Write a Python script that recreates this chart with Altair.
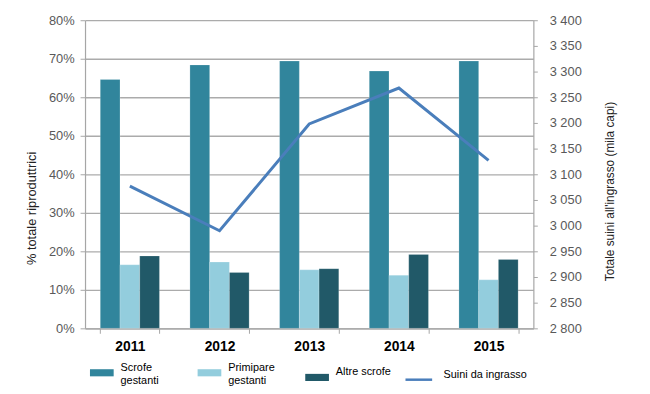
import altair as alt
import pandas as pd

anni = ["2011", "2012", "2013", "2014", "2015"]
serie_barre = ["Scrofe|gestanti", "Primipare|gestanti", "Altre scrofe"]
scrofe_gestanti = [64.6, 68.4, 69.4, 66.8, 69.4]
primipare_gestanti = [16.5, 17.2, 15.2, 13.8, 12.6]
altre_scrofe = [18.8, 14.5, 15.5, 19.2, 17.9]
serie_linea = "Suini da ingrasso"
suini_ingrasso = [3077, 2990, 3198, 3268, 3127]

colori_barre = ["#31859C", "#93CDDD", "#215968"]
colore_linea = "#4A7EBB"

rows = []
for i, a in enumerate(anni):
    for s, vals in zip(serie_barre, [scrofe_gestanti, primipare_gestanti, altre_scrofe]):
        rows.append({"Anno": a, "Serie": s, "Valore": vals[i]})
df_bar = pd.DataFrame(rows)
df_line = pd.DataFrame({"Anno": anni, "Suini": suini_ingrasso, "Serie": [serie_linea] * len(anni)})

FONT = "Liberation Sans"

x_enc = alt.X(
    "Anno:N",
    sort=anni,
    scale=alt.Scale(paddingInner=0.34, paddingOuter=0.17),
    axis=alt.Axis(
        title=None, labelAngle=0, labelFont=FONT, labelFontSize=14, labelFontWeight="bold",
        labelColor="#000000", labelPadding=6, tickBand="extent", tickSize=5,
        tickColor="#A6A6A6", domainColor="#A6A6A6", domainWidth=1.2, grid=False,
    ),
)

bars = alt.Chart(df_bar).mark_bar(stroke="#ffffff", strokeWidth=0.4, strokeOpacity=0.5).encode(
    x=x_enc,
    xOffset=alt.XOffset("Serie:N", sort=serie_barre, scale=alt.Scale(paddingInner=0, paddingOuter=0)),
    y=alt.Y(
        "Valore:Q",
        scale=alt.Scale(domain=[0, 80], nice=False),
        axis=alt.Axis(
            title="% totale riproduttrici", values=list(range(0, 90, 10)),
            labelExpr="datum.value + '%'", labelFont=FONT, labelFontSize=13, labelColor="#595959",
            labelPadding=6, tickSize=5, tickColor="#A6A6A6", domainColor="#A6A6A6", domainWidth=1.2,
            gridColor="#ABABAB", gridWidth=1.3, titleFont=FONT, titleFontSize=13,
            titleFontWeight="normal", titleColor="#222222", titlePadding=10, titleY=190,
        ),
    ),
    color=alt.Color(
        "Serie:N",
        sort=serie_barre,
        scale=alt.Scale(domain=serie_barre, range=colori_barre),
        legend=alt.Legend(
            title=None, orient="none", legendX=5, legendY=345, direction="horizontal",
            symbolType="M-1,-0.3H1V0.3H-1Z", symbolSize=576, symbolStrokeWidth=0,
            labelExpr="split(datum.label, '|')", labelFont=FONT, labelFontSize=11,
            labelColor="#000000", labelOffset=7, labelBaseline="bottom",
            columnPadding=22, gridAlign="all", padding=0,
        ),
    ),
)

line = alt.Chart(df_line).mark_line(strokeWidth=3).encode(
    x=alt.X("Anno:N", sort=anni),
    y=alt.Y(
        "Suini:Q",
        scale=alt.Scale(domain=[2800, 3400], nice=False, zero=False),
        axis=alt.Axis(
            orient="right", title="Totale suini all'ingrasso (mila capi)",
            values=list(range(2800, 3450, 50)),
            labelExpr="replace(format(datum.value, ','), ',', ' ')",
            labelFont=FONT, labelFontSize=13, labelColor="#595959", labelPadding=12,
            tickSize=4, tickColor="#A6A6A6", domainColor="#A6A6A6", domainWidth=1.2, grid=False,
            titleFont=FONT, titleFontSize=12, titleFontWeight="normal", titleColor="#222222",
            titleAngle=270, titlePadding=36, titleY=173,
        ),
    ),
    stroke=alt.Stroke(
        "Serie:N",
        scale=alt.Scale(domain=[serie_linea], range=[colore_linea]),
        legend=alt.Legend(
            title=None, orient="none", legendX=323, legendY=349, direction="horizontal",
            symbolType="stroke", symbolSize=729, symbolStrokeWidth=2.5,
            labelFont=FONT, labelFontSize=11, labelColor="#000000", labelOffset=10,
            labelBaseline="bottom", padding=0,
        ),
    ),
)

chart = (
    alt.layer(bars, line)
    .resolve_scale(y="independent", color="independent", stroke="independent")
    .properties(
        width=454, height=312,
        autosize=alt.AutoSizeParams(type="none"),
        padding={"left": 78, "top": 10, "right": 110, "bottom": 56},
        background="#ffffff",
    )
    .configure_view(stroke=None)
)

chart.save("out.html", embed_options={"renderer": "svg", "actions": False})
